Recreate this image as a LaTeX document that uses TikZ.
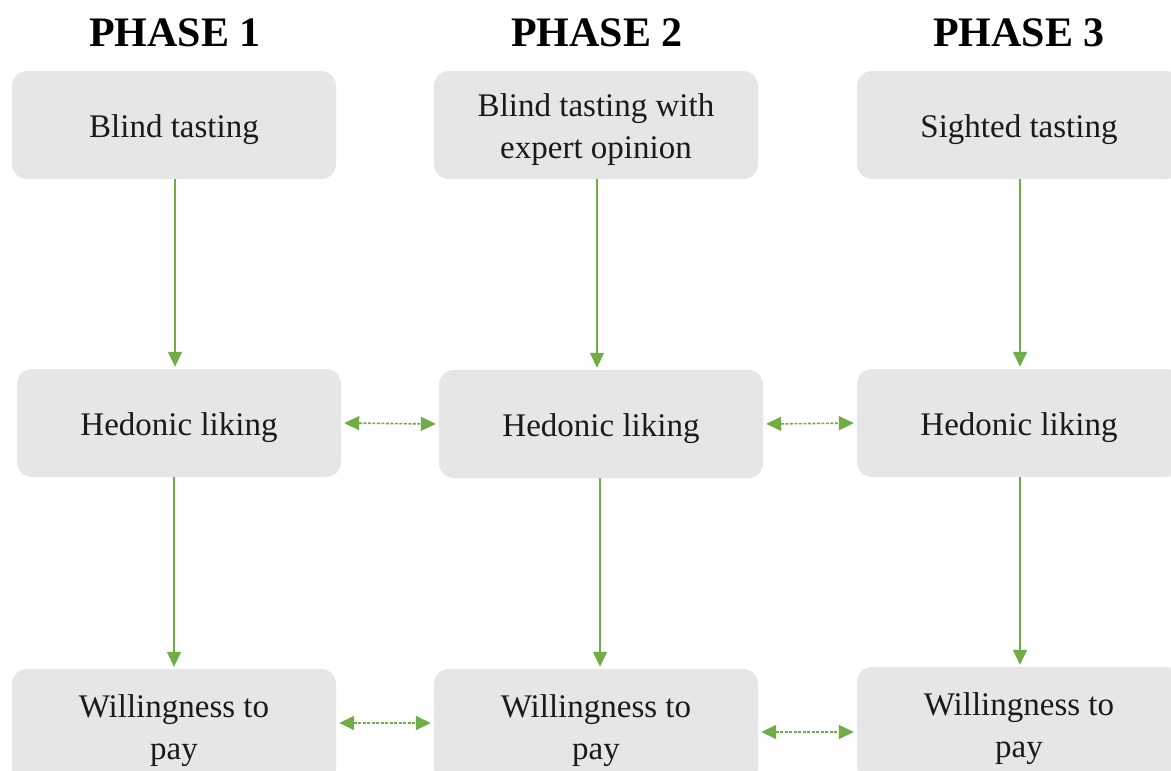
\documentclass[tikz,border=0pt]{standalone}
\usepackage{fontspec}
\setmainfont{Liberation Serif}
\usetikzlibrary{arrows.meta}
\definecolor{boxgray}{HTML}{E6E6E6}
\definecolor{arrgreen}{HTML}{70AD47}
\definecolor{txt}{HTML}{1A1A1A}
\begin{document}
\begin{tikzpicture}[x=1pt,y=1pt,
  boxtext/.style={inner sep=0pt, align=center, text=txt, font=\fontsize{33}{42}\selectfont, yshift=-5pt},
  box/.style={fill=boxgray, draw=none, rounded corners=15pt, minimum width=324pt, minimum height=108pt,
    inner sep=0pt, label={[boxtext]center:#1}},
  title/.style={font=\bfseries\fontsize{42}{48}\selectfont, text=black, inner sep=0pt},
  varrow/.style={draw=arrgreen, line width=1.4pt, -{Triangle[length=15pt,width=14pt]}, shorten >=2pt},
  harrow/.style={draw=arrgreen, line width=1.6pt, dash pattern=on 3pt off 1.5pt,
    {Triangle[length=15pt,width=14pt]}-{Triangle[length=15pt,width=14pt]}, shorten >=3pt, shorten <=3pt}
]
\clip (0,0) rectangle (1171,-771);
\fill[white] (0,0) rectangle (1171,-771);

\node[title] (p1) at (175,-33) {PHASE 1};
\node[title] (p2) at (597,-33) {PHASE 2};
\node[title] (p3) at (1019,-33) {PHASE 3};

\node[box={Blind tasting}] (a1) at (174,-125) {};
\node[box={Blind tasting with\\expert opinion}] (a2) at (596,-125) {};
\node[box={Sighted tasting}] (a3) at (1019,-125) {};

\node[box={Hedonic liking}] (b1) at (179,-423) {};
\node[box={Hedonic liking}] (b2) at (601,-424) {};
\node[box={Hedonic liking}] (b3) at (1019,-423) {};

\node[box={Willingness to\\pay}, minimum height=114pt] (c1) at (174,-726) {};
\node[box={Willingness to\\pay}, minimum height=114pt] (c2) at (596,-726) {};
\node[box={Willingness to\\pay}, minimum height=114pt] (c3) at (1019,-724) {};

\draw[varrow] (a1.south -| 175,0) -- (b1.north -| 175,0);
\draw[varrow] (a2.south -| 597,0) -- (b2.north -| 597,0);
\draw[varrow] (a3.south -| 1020,0) -- (b3.north -| 1020,0);

\draw[varrow] (b1.south -| 174,0) -- (c1.north -| 174,0);
\draw[varrow] (b2.south -| 600,0) -- (c2.north -| 600,0);
\draw[varrow] (b3.south -| 1020,0) -- (c3.north -| 1020,0);

\draw[harrow] (b1.east) -- (b2.west);
\draw[harrow] (b2.east) -- (b3.west);
\draw[harrow] ([yshift=3pt]c1.east) -- ([yshift=3pt]c2.west);
\draw[harrow] ([yshift=-6pt]c2.east) -- ([yshift=-6pt]c3.west |- c2.east);
\end{tikzpicture}
\end{document}
